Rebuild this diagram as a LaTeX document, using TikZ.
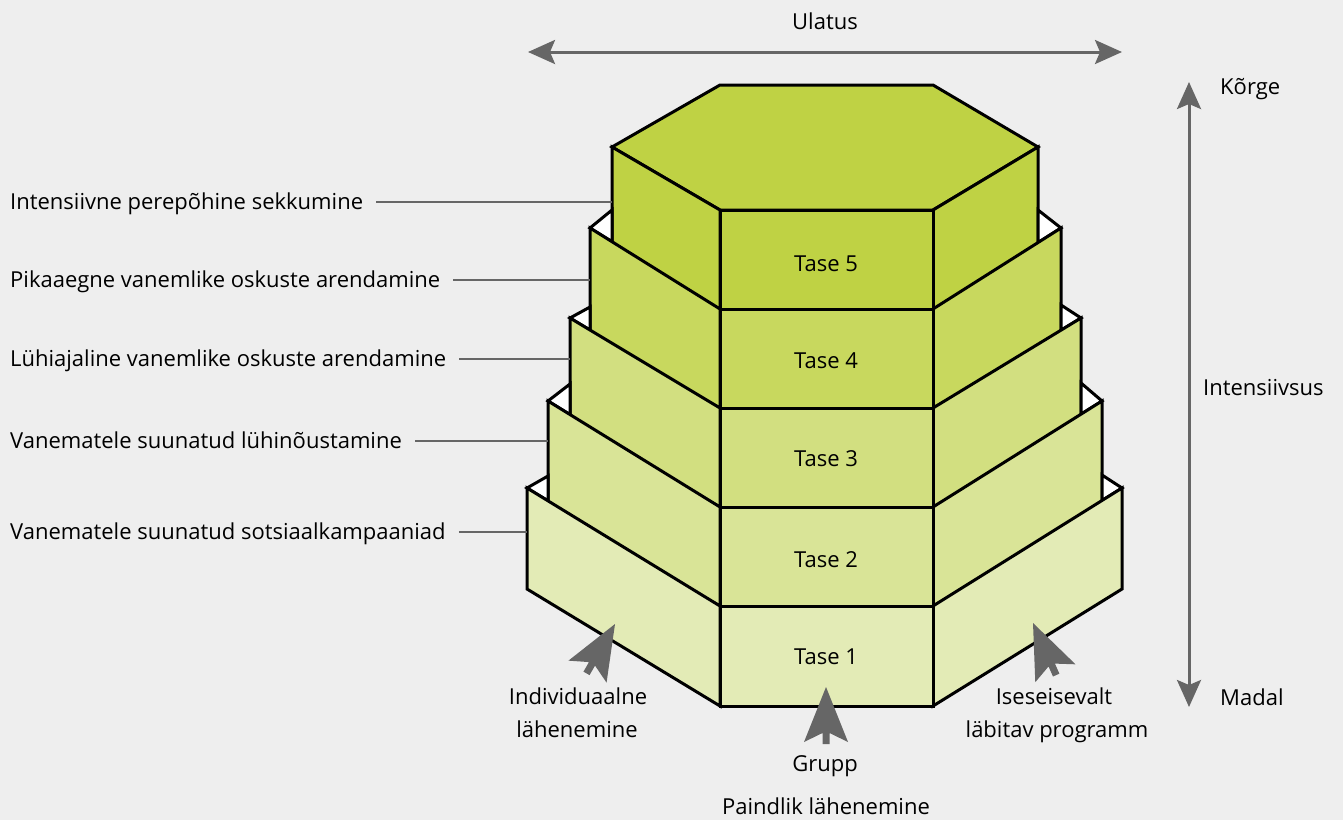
\documentclass[tikz,border=0pt]{standalone}
\usepackage{fontspec}
\setmainfont{Open Sans}
\usetikzlibrary{arrows.meta,calc}
\definecolor{bg}{HTML}{EEEEEE}
\definecolor{agray}{HTML}{666666}
\definecolor{gA}{HTML}{BFD244}
\definecolor{gB}{HTML}{C8D85E}
\definecolor{gC}{HTML}{D2DF80}
\definecolor{gD}{HTML}{D9E497}
\definecolor{gE}{HTML}{E3EBB6}
\tikzset{
  face/.style={draw=black, line width=3pt, line join=miter},
  txt/.style={font=\fontsize{22}{26}\selectfont, inner sep=0pt, text height=15.8pt, text depth=0pt},
  labelline/.style={draw=agray, line width=1.4pt},
  axisline/.style={draw=agray, line width=3pt},
  cursorpic/.pic={\fill[agray] (0,0) -- (22,55) -- (3.5,46) -- (3.5,57) -- (-3.5,57) -- (-3.5,46) -- (-22,55) -- cycle;}
}
% #1 xl, #2 xr, #3 vertex y, #4 front top y, #5 height, #6 colour, #7 side height
\newcommand\drawlevel[7]{%
  \draw[face,fill=#6] (#1,#3) -- (720,#4) -- (720,{#4+#5}) -- (#1,{#3+#7}) -- cycle;
  \draw[face,fill=#6] (#2,#3) -- (933,#4) -- (933,{#4+#5}) -- (#2,{#3+#7}) -- cycle;
  \draw[face,fill=#6] (720,#4) rectangle (933,{#4+#5});
}
% #1 x vertex, #2 y vertex, #3 x top, #4 y top, #5 y edge
\newcommand\drawwhitetop[5]{%
  \draw[face,fill=white] (#1,#2) -- (#3,#4) -- (#3,#5) -- cycle;
}
\begin{document}
\begin{tikzpicture}[x=1pt,y=-1pt]
\useasboundingbox (0,0) rectangle (1343,820);
\fill[bg] (0,0) rectangle (1343,820);

% level 5 with top
\draw[face,fill=gA] (612,147) -- (720,85) -- (933,85) -- (1038,147) -- (933,210) -- (720,210) -- cycle;
\drawlevel{612}{1038}{147}{210}{99}{gA}{112}
% level 4
\drawwhitetop{590}{228}{612}{210}{241.7}
\drawwhitetop{1061}{228}{1038}{210}{242.6}
\drawlevel{590}{1061}{228}{309}{99}{gB}{112}
% level 3
\drawwhitetop{570}{318}{590}{307}{330}
\drawwhitetop{1081}{318}{1061}{305}{330.2}
\drawlevel{570}{1081}{318}{408}{99}{gC}{110}
% level 2
\drawwhitetop{548}{401}{570}{384}{414.6}
\drawwhitetop{1102}{401}{1081}{383}{414.2}
\drawlevel{548}{1102}{401}{507}{99}{gD}{110}
% level 1
\drawwhitetop{527}{488}{548}{476}{500.8}
\drawwhitetop{1122}{488}{1102}{475}{500.5}
\drawlevel{527}{1122}{488}{606}{100}{gE}{101}

% edge coordinates for label lines
\coordinate (e5) at (612,202);
\coordinate (e4) at (590,280);
\coordinate (e3) at (570,359);
\coordinate (e2) at (548,441);
\coordinate (e1) at (527,532);

% level texts
\node[txt] (t5) at (826,264) {Tase 5};
\node[txt] (t4) at (826,361) {Tase 4};
\node[txt] (t3) at (826,459) {Tase 3};
\node[txt] (t2) at (826,560) {Tase 2};
\node[txt] (t1) at (826,657) {Tase 1};

% left labels
\node[txt,anchor=west] (l5) at (10,202) {Intensiivne perepõhine sekkumine};
\node[txt,anchor=west] (l4) at (10,280) {Pikaaegne vanemlike oskuste arendamine};
\node[txt,anchor=west] (l3) at (10,359) {Lühiajaline vanemlike oskuste arendamine};
\node[txt,anchor=west] (l2) at (10,441) {Vanematele suunatud lühinõustamine};
\node[txt,anchor=west] (l1) at (10,532) {Vanematele suunatud sotsiaalkampaaniad};
\draw[labelline] ([xshift=13pt]l5.east) -- (e5);
\draw[labelline] ([xshift=13pt]l4.east) -- (e4);
\draw[labelline] ([xshift=13pt]l3.east) -- (e3);
\draw[labelline] ([xshift=13pt]l2.east) -- (e2);
\draw[labelline] ([xshift=13pt]l1.east) -- (e1);

% top axis
\node[txt] (ulatus) at (825,22) {Ulatus};
\coordinate (ua) at (528,52);
\coordinate (ub) at (1122,52);
\draw[axisline,{Stealth[length=27pt,width=24pt,inset=5pt]}-{Stealth[length=27pt,width=24pt,inset=5pt]}] (ua) -- (ub);

% right axis
\node[txt,anchor=west] (korge) at (1220,87) {Kõrge};
\node[txt,anchor=west] (intens) at (1203,388) {Intensiivsus};
\node[txt,anchor=west] (madal) at (1220,698) {Madal};
\coordinate (va) at (1189,707);
\coordinate (vb) at (1189,82);
\draw[axisline,{Stealth[length=27pt,width=24pt,inset=5pt]}-{Stealth[length=27pt,width=24pt,inset=5pt]}] (va) -- (vb);

% bottom pointers
\pic[rotate=-30] (pl) at (615,624) {cursorpic};
\pic (pc) at (826,687) {cursorpic};
\pic[rotate=24] (pr) at (1033,623) {cursorpic};

\node[txt] (ind1) at (578,697) {Individuaalne};
\node[txt] (ind2) at (577,730) {lähenemine};
\node[txt] (ise1) at (1054,697) {Iseseisevalt};
\node[txt] (ise2) at (1057,730) {läbitav programm};
\node[txt] (grupp) at (825,764) {Grupp};
\node[txt] (paind) at (826,807) {Paindlik lähenemine};
\end{tikzpicture}
\end{document}
